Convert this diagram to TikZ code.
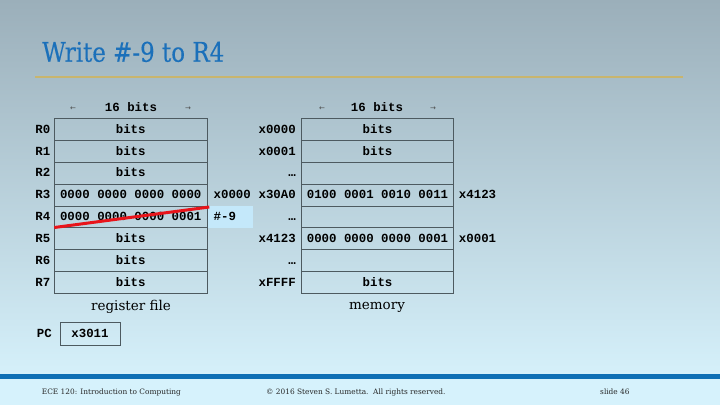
\documentclass[tikz,border=0pt]{standalone}
\usepackage{fontspec}
\setmainfont{DejaVu Serif}
\newfontfamily\titlefont[FakeStretch=0.85,FakeBold=0.35]{DejaVu Serif}
\newfontfamily\cellfont{Liberation Mono}
\newfontfamily\arrowfont{DejaVu Sans}
\definecolor{skytop}{HTML}{9BAFBA}
\definecolor{skybot}{HTML}{D5F0FA}
\definecolor{footbg}{HTML}{D6F2FC}
\definecolor{barblue}{HTML}{0F6FB5}
\definecolor{titleblue}{HTML}{1B70BA}
\definecolor{rulegold}{HTML}{C8B56E}
\definecolor{gridline}{HTML}{4D5A60}
\definecolor{hilite}{HTML}{C4E8FA}
\definecolor{strike}{HTML}{E8141A}
\begin{document}
\begin{tikzpicture}[x=1pt,y=-1pt,
  monotext/.style={font=\cellfont\bfseries\fontsize{12.4}{14}\selectfont,text height=7.4pt,text depth=0pt},
  cell/.style={monotext,draw=gridline,line width=0.9pt,minimum width=153.5pt,minimum height=21.875pt,
    inner sep=0pt},
  mcell/.style={cell,minimum width=151.6pt},
  rlabel/.style={monotext,anchor=east,inner sep=0pt},
  vlabel/.style={monotext,anchor=west,inner sep=0pt},
  hdr/.style={monotext,inner sep=0pt},
  harrow/.style={inner sep=0pt,text=black!70,font=\arrowfont\fontsize{7}{8}\selectfont},
  caption/.style={inner sep=0pt,font=\fontsize{13.5}{15}\selectfont},
  foot/.style={anchor=base west,inner sep=0pt,text=black!85,font=\fontsize{7.4}{9}\selectfont}]
\useasboundingbox (0,0) rectangle (720,405);
% slide background and footer
\shade[top color=skytop,bottom color=skybot] (0,0) rectangle (720,374);
\fill[footbg] (0,374) rectangle (720,405);
\fill[barblue] (0,374) rectangle (720,378.5);
% title and rule
\node[anchor=base west,inner sep=0pt,text=titleblue,font=\titlefont\fontsize{27}{30}\selectfont] (title) at (42,61.7) {Write \#-9 to R4};
\draw[rulegold,line width=2pt] (35,76.7) -- (683,76.7);

% register file
\node[harrow] (rl) at (73,108.5) {←};
\node[hdr] (rh) at (131,108) {16 bits};
\node[harrow] (rr) at (188,108.5) {→};
\foreach \i/\t in {0/bits,1/bits,2/bits,3/{0000 0000 0000 0000},4/{0000 0000 0000 0001},5/bits,6/bits,7/bits}{
  \node[cell] (r\i) at (130.75,{118.5+21.875*(\i+0.5)}) {\t};
  \node[rlabel] (rn\i) at (50.5,{118.5+21.875*(\i+0.5)}) {R\i};
}
\fill[hilite] (207.9,206.4) rectangle (253.3,227.6);
\node[vlabel] (rv3) at ([xshift=5.5pt]r3.east) {x0000};
\node[vlabel] (rv4) at ([xshift=5.5pt]r4.east) {\#-9};
\coordinate (s1) at (54.3,227.5);
\coordinate (s2) at (209.3,207);
\draw[strike,line width=3pt] (s1) -- (s2);
\node[caption] (rcap) at (131,307) {register file};

% memory
\node[harrow] (ml) at (322,108.5) {←};
\node[hdr] (mh) at (377,108) {16 bits};
\node[harrow] (mr) at (433,108.5) {→};
\foreach \i/\t/\a in {0/bits/x0000,1/bits/x0001,2/{}/…,3/{0100 0001 0010 0011}/x30A0,4/{}/…,5/{0000 0000 0000 0001}/x4123,6/{}/…,7/bits/xFFFF}{
  \node[mcell] (m\i) at (377.5,{118.5+21.875*(\i+0.5)}) {\t};
  \node[rlabel] (mn\i) at (296,{118.5+21.875*(\i+0.5)}) {\a};
}
\node[vlabel] (mv3) at ([xshift=5pt]m3.east) {x4123};
\node[vlabel] (mv5) at ([xshift=5pt]m5.east) {x0001};
\node[caption] (mcap) at (377,307) {memory};

% program counter
\node[rlabel] (pcl) at (52,333.8) {PC};
\node[monotext,draw=gridline,line width=0.9pt,minimum width=60pt,minimum height=22.5pt,inner sep=0pt] (pc) at (90,333.8) {x3011};

% footer
\node[foot] (f1) at (41.7,394) {ECE 120: Introduction to Computing};
\node[foot] (f2) at (266,394) {© 2016 Steven S. Lumetta.\ \ All rights reserved.};
\node[foot] (f3) at (600,394) {slide 46};
\end{tikzpicture}
\end{document}
